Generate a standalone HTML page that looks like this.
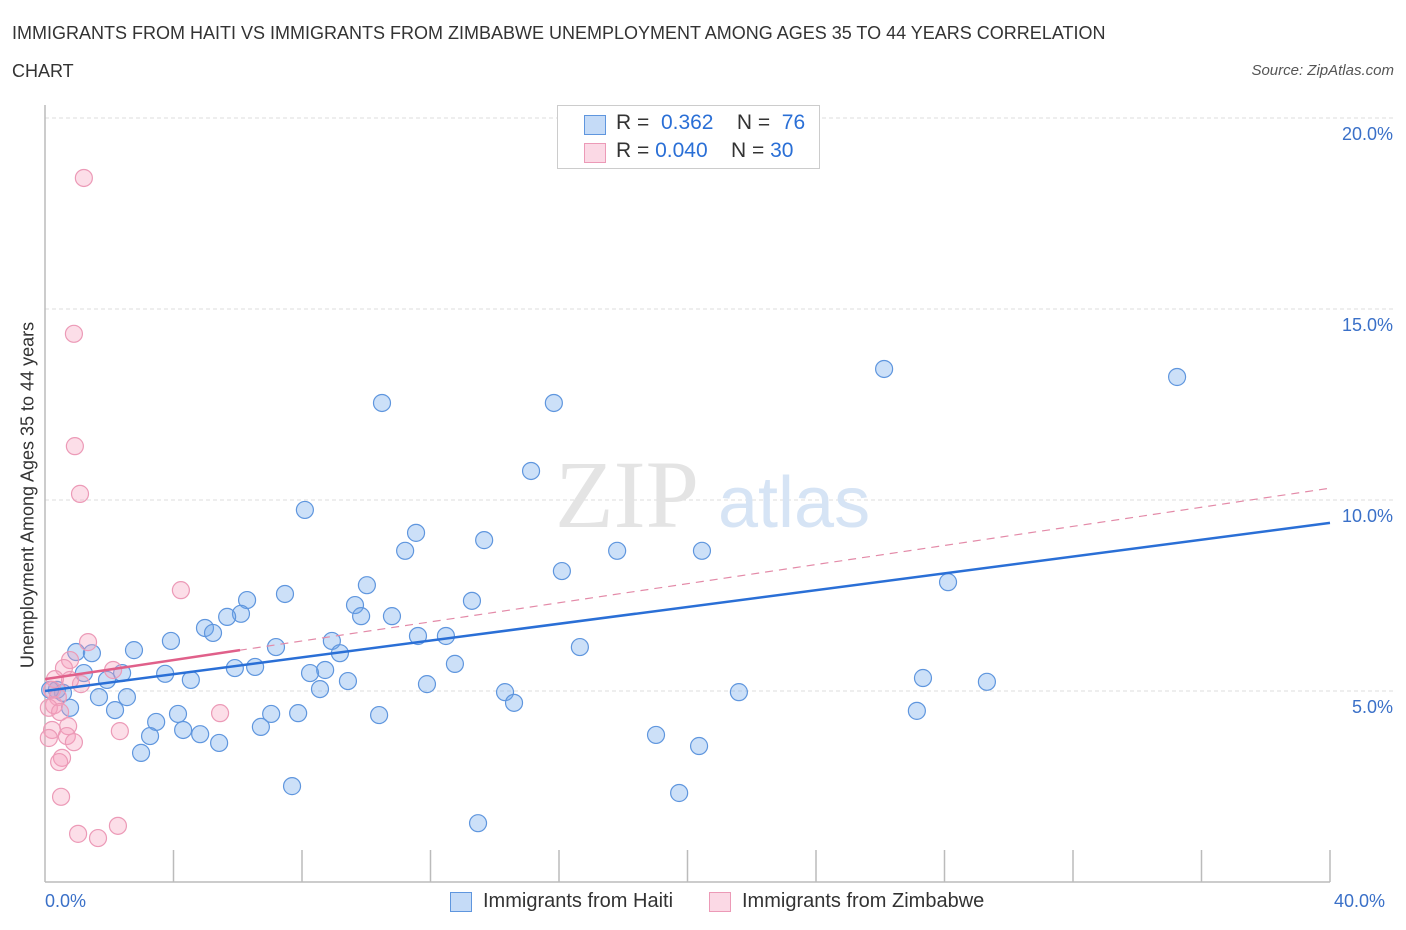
<!DOCTYPE html>
<html><head><meta charset="utf-8"><style>
body{margin:0;background:#fff;font-family:"Liberation Sans",sans-serif;}
#wrap{position:relative;width:1406px;height:930px;overflow:hidden;}
.t{position:absolute;white-space:nowrap;}
</style></head><body>
<div id="wrap">
<div class="t" style="left:12px;top:14px;font-size:18px;color:#333;line-height:38px;">IMMIGRANTS FROM HAITI VS IMMIGRANTS FROM ZIMBABWE UNEMPLOYMENT AMONG AGES 35 TO 44 YEARS CORRELATION<br>CHART</div>
<div class="t" style="right:12px;top:62px;font-size:15px;color:#555;font-style:italic">Source: ZipAtlas.com</div>
<svg id="svg" width="1406" height="930" style="position:absolute;left:0;top:0"></svg>
</div>
<script>
const yTicks=[5,10,15,20];
const yTickLabels=["5.0%","10.0%","15.0%","20.0%"];
const xTickCount=10;
const haitiX=[10.49,15.84,26.12,35.24,15.13,8.09,11.55,13.67,11.21,17.81,20.45,16.09,28.11,10.02,7.47,6.29,9.65,13.29,10.80,9.84,6.10,5.67,4.98,5.23,11.61,12.48,8.93,7.19,16.65,3.92,2.77,0.97,1.46,9.18,12.76,5.91,6.54,8.72,8.25,3.74,2.40,1.21,1.93,4.54,9.43,11.89,27.33,29.32,8.56,14.32,21.60,0.37,0.56,0.16,2.55,1.68,14.60,0.78,2.18,4.14,3.46,7.04,7.88,10.40,27.14,4.30,4.83,3.27,6.72,19.02,5.42,20.36,2.99,7.69,19.74,13.48];
const haitiY=[12.54,12.54,13.43,13.22,10.76,9.74,9.14,8.95,8.67,8.67,8.67,8.14,7.85,7.77,7.54,7.38,7.25,7.36,6.96,6.96,7.02,6.94,6.65,6.52,6.44,6.44,6.31,6.15,6.15,6.31,6.07,6.02,5.99,5.99,5.71,5.60,5.63,5.55,5.47,5.45,5.47,5.47,5.29,5.29,5.26,5.18,5.34,5.24,5.05,4.97,4.97,5.03,4.95,5.03,4.84,4.84,4.69,4.56,4.50,4.40,4.19,4.40,4.42,4.37,4.48,3.98,3.87,3.82,4.06,3.85,3.64,3.56,3.38,2.51,2.33,1.54];
const zimX=[1.21,0.90,0.93,1.09,4.23,1.34,0.78,0.59,2.12,0.31,1.12,0.78,0.22,0.40,0.28,0.12,5.45,0.47,0.72,0.22,2.33,0.68,0.90,0.12,0.53,0.44,0.50,1.03,1.65,2.27];
const zimY=[18.43,14.35,11.41,10.16,7.64,6.28,5.81,5.60,5.55,5.31,5.18,5.29,5.03,4.84,4.63,4.56,4.42,4.45,4.08,3.98,3.95,3.82,3.66,3.77,3.25,3.14,2.23,1.26,1.15,1.47];
const haitiTrend=[5.00,9.40];
const zimTrend=[5.31,10.31];
const zimSolidEnd=6.07;
const X0=45,X1=1330,Y0=882,PX_PER=191/5;
const sx=v=>X0+(v/40)*(X1-X0);
const sy=v=>Y0-v*PX_PER;
const svg=document.getElementById('svg');
const NS='http://www.w3.org/2000/svg';
function mk(tag,at){const e=document.createElementNS(NS,tag);for(const k in at)e.setAttribute(k,at[k]);svg.appendChild(e);return e;}
yTicks.forEach((v,i)=>{
 const g=mk('line',{x1:X0,x2:1395,y1:sy(v),y2:sy(v),stroke:'#ddd','stroke-dasharray':'4,3'});
 
 
 const t=mk('text',{x:1393,y:sy(v)+22,'text-anchor':'end','font-size':18,fill:'#3a70c8','font-family':'Liberation Sans'});
 t.textContent=yTickLabels[i];
 
 
});
const ya=mk('line',{x1:X0,x2:X0,y1:105,y2:Y0,stroke:'#bbb','stroke-width':1.5});


const xa=mk('line',{x1:X0,x2:X1,y1:Y0,y2:Y0,stroke:'#bbb','stroke-width':1.5});


for(let i=1;i<=xTickCount;i++){
 const x=sx(i*40/xTickCount);
 const tk=mk('line',{x1:x,x2:x,y1:Y0-32,y2:Y0,stroke:'#bbb','stroke-width':1.5});
 
 
}
const wm=mk('text',{x:555,y:527,'font-size':96,fill:'#e4e4e4','font-family':'Liberation Serif'});
wm.textContent='ZIP';


const wm2=mk('text',{x:718,y:527,'font-size':72,fill:'#d6e4f5','font-family':'Liberation Sans'});
wm2.textContent='atlas';


function pts(xs,ys,fill,stroke,name){xs.forEach((v,i)=>{
 const c=mk('circle',{cx:sx(v),cy:sy(ys[i]),r:8.5,fill:fill,stroke:stroke,'stroke-width':1.2});
 
 
});}
pts(haitiX,haitiY,'rgba(110,165,235,0.35)','#5f96de','haiti-point');
pts(zimX,zimY,'rgba(245,160,190,0.35)','#ec9ab7','zimbabwe-point');
const zd=mk('line',{x1:sx(0),y1:sy(zimTrend[0]),x2:sx(40),y2:sy(zimTrend[1]),stroke:'#e38aa8','stroke-width':1.2,'stroke-dasharray':'8,6'});


const zEndX=zimSolidEnd;
const zs=mk('line',{x1:sx(0),y1:sy(zimTrend[0]),x2:sx(zEndX),y2:sy(zimTrend[0]+(zimTrend[1]-zimTrend[0])*zEndX/40),stroke:'#e0608a','stroke-width':2.5});


const hl=mk('line',{x1:sx(0),y1:sy(haitiTrend[0]),x2:sx(40),y2:sy(haitiTrend[1]),stroke:'#2a6fd6','stroke-width':2.5});


</script>
<div class="t" style="left:28px;top:495px;font-size:18px;color:#333;transform:translate(-50%,-50%) rotate(-90deg);">Unemployment Among Ages 35 to 44 years</div>
<div class="t" style="left:45px;top:891px;font-size:18px;color:#3a70c8">0.0%</div>
<div class="t" style="left:1334px;top:891px;font-size:18px;color:#3a70c8">40.0%</div>
<div style="position:absolute;left:557px;top:105px;width:261px;height:62px;border:1px solid #ccc;background:#fff;font-size:21px;color:#333">
 <div style="position:absolute;left:26px;top:9px;width:20px;height:18px;background:rgba(110,165,235,0.4);border:1px solid #5f96de"></div>
 <div class="t" style="left:58px;top:5px">R = &nbsp;<span style="color:#2a6fd6">0.362</span>&nbsp;&nbsp;&nbsp; N = &nbsp;<span style="color:#2a6fd6">76</span></div>
 <div style="position:absolute;left:26px;top:37px;width:20px;height:18px;background:rgba(245,160,190,0.4);border:1px solid #ec9ab7"></div>
 <div class="t" style="left:58px;top:33px">R = <span style="color:#2a6fd6">0.040</span>&nbsp;&nbsp;&nbsp; N = <span style="color:#2a6fd6">30</span></div>
</div>
<div style="position:absolute;left:450px;top:890px;font-size:20px;color:#333">
 <div style="position:absolute;left:0;top:2px;width:20px;height:18px;background:rgba(110,165,235,0.4);border:1px solid #5f96de"></div>
 <div class="t" style="left:33px;top:0">Immigrants from Haiti</div>
 <div style="position:absolute;left:259px;top:2px;width:20px;height:18px;background:rgba(245,160,190,0.4);border:1px solid #ec9ab7"></div>
 <div class="t" style="left:292px;top:0">Immigrants from Zimbabwe</div>
</div>
</body></html>
